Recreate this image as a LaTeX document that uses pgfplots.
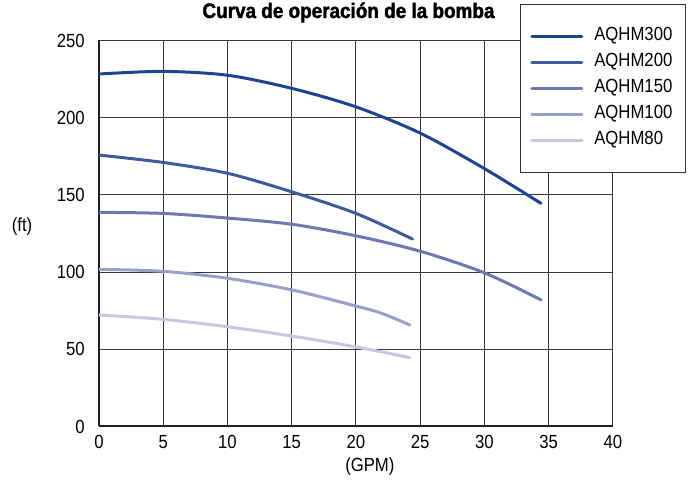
\documentclass[border=0pt]{standalone}
\usepackage{fontspec}
\setmainfont{Liberation Sans}[FakeStretch=0.88]
\newfontfamily\titlefont{Liberation Sans}[FakeStretch=0.9,FakeBold=1.8]
\usepackage{pgfplots}
\pgfplotsset{compat=1.18}
\definecolor{cA}{RGB}{27,69,144}
\definecolor{cB}{RGB}{63,90,156}
\definecolor{cC}{RGB}{109,120,176}
\definecolor{cD}{RGB}{154,159,202}
\definecolor{cE}{RGB}{198,200,224}
\definecolor{gridc}{RGB}{55,55,55}
\begin{document}
\begin{tikzpicture}
\path[use as bounding box] (-99pt,-55.5pt) rectangle (590pt,426.5pt);
\begin{axis}[
  at={(0,0)}, anchor=south west,
  scale only axis, width=514pt, height=386pt,
  xmin=0, xmax=40, ymin=0, ymax=250,
  xtick={0,5,...,40}, ytick={0,50,...,250},
  axis lines*=left,
  axis line style={line width=2pt, black!88},
  major tick length=0pt,
  grid=major,
  major grid style={line width=1pt, gridc},
  /pgf/number format/assume math mode=true,
  tick label style={font=\fontsize{19}{19}\selectfont, inner sep=0pt},
  yticklabel style={anchor=east, xshift=-14pt},
  xticklabel style={anchor=north, yshift=-8.5pt},
  xlabel={(GPM)},
  xlabel style={at={(axis description cs:0.527,0)}, anchor=base, yshift=-45.5pt, font=\fontsize{19}{19}\selectfont},
  ylabel={(ft)},
  every axis y label/.style={at={(axis description cs:-0.1498,0.5168)}, anchor=center, font=\fontsize{19}{19}\selectfont},
  title={\titlefont\bfseries Curva de operación de la bomba},
  every axis title/.style={at={(axis description cs:0.4854,1)}, anchor=base, yshift=22.5pt, inner sep=0pt, font=\fontsize{21}{21}\selectfont},
  legend image code/.code={\draw[#1, line width=3pt, line cap=round] (0pt,0pt) -- (50pt,0pt);},
  legend cell align=left,
  legend style={at={(axis description cs:0.8187,1.0957)}, anchor=north west,
    draw=black!80, line width=1pt, fill=white,
    inner xsep=10pt, inner ysep=23pt, row sep=8pt, column sep=8pt,
    font=\fontsize{19}{19}\selectfont,
    nodes={inner xsep=3pt, inner ysep=0pt, text height=13.5pt, text depth=4.5pt}},
  every axis plot/.append style={line width=3pt, line cap=round, smooth},
]
\addplot[cA] coordinates {(0,228.3) (5,230) (10,227.5) (15,219) (20,207) (25,190) (30,167) (34.4,144.5)};
\addlegendentry{AQHM300\hspace{25pt}}
\addplot[cB] coordinates {(0,175.8) (5,171) (10,164) (15,152) (20,138) (24.4,121.4)};
\addlegendentry{AQHM200}
\addplot[cC] coordinates {(0,138.7) (5,138) (10,135) (15,131) (20,123.5) (25,113.5) (30,99.5) (34.4,82)};
\addlegendentry{AQHM150}
\addplot[cD] coordinates {(0,101.8) (5,100.5) (10,96) (15,88.5) (20,78) (22,73.3) (24.2,65.7)};
\addlegendentry{AQHM100}
\addplot[cE] coordinates {(0,72.2) (5,69.4) (10,64.6) (15,58.6) (20,51.5) (24.2,44.6)};
\addlegendentry{AQHM80}
\end{axis}
\end{tikzpicture}
\end{document}
